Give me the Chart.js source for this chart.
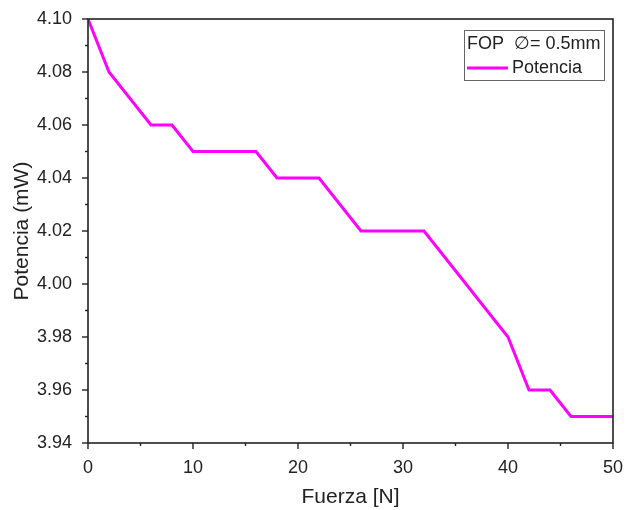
<!DOCTYPE html>
<html><head><meta charset="utf-8">
<script src="https://cdn.jsdelivr.net/npm/chart.js@4/dist/chart.umd.min.js"></script>
<style>html,body{margin:0;padding:0;background:#fff}#wrap{width:626px;height:510px}</style>
</head><body><div id="wrap"><canvas id="c" width="626" height="510"></canvas></div>
<script>
const fuerza = [0, 2, 6, 8, 10, 16, 18, 22, 26, 32, 40, 42, 44, 46, 50];
const potencia = [4.10, 4.08, 4.06, 4.06, 4.05, 4.05, 4.04, 4.04, 4.02, 4.02, 3.98, 3.96, 3.96, 3.95, 3.95];
const xTicks = [0, 10, 20, 30, 40, 50];
const yTicks = [3.94, 3.96, 3.98, 4.00, 4.02, 4.04, 4.06, 4.08, 4.10];
const seriesName = 'Potencia';
const legendTitle = 'FOP  \u2205= 0.5mm';
const xTitle = 'Fuerza [N]';
const yTitle = 'Potencia (mW)';

const FONT = 'Arial, "Liberation Sans", sans-serif';

const framePlugin = {
  id: 'frame',
  afterDraw(chart) {
    const {ctx, chartArea: a, scales} = chart;
    ctx.save();
    ctx.strokeStyle = '#222';
    ctx.lineWidth = 1.6;
    ctx.strokeRect(a.left, a.top, a.right - a.left, a.bottom - a.top);
    ctx.lineWidth = 1.4;
    const xs = scales.x, ys = scales.y;
    for (let v = 0; v <= 50; v += 5) {
      const px = xs.getPixelForValue(v);
      const len = (v % 10 === 0) ? 6 : 3;
      ctx.beginPath(); ctx.moveTo(px, a.bottom); ctx.lineTo(px, a.bottom + len); ctx.stroke();
    }
    for (let i = 0; i <= 16; i++) {
      const v = 3.94 + i * 0.01;
      const py = ys.getPixelForValue(v);
      const len = (i % 2 === 0) ? 6 : 3;
      ctx.beginPath(); ctx.moveTo(a.left, py); ctx.lineTo(a.left - len, py); ctx.stroke();
    }
    // legend box
    const lx = 464, ly = 30, lw = 140, lh = 50;
    ctx.lineWidth = 1;
    ctx.strokeStyle = '#666';
    ctx.strokeRect(lx + 0.5, ly + 0.5, lw, lh);
    ctx.fillStyle = '#222';
    ctx.font = '18px ' + FONT;
    ctx.textBaseline = 'middle';
    ctx.textAlign = 'left';
    ctx.fillText(legendTitle, lx + 3, ly + 14);
    ctx.strokeStyle = '#ff00ff';
    ctx.lineWidth = 3;
    ctx.beginPath(); ctx.moveTo(lx + 3, ly + 38); ctx.lineTo(lx + 44, ly + 38); ctx.stroke();
    ctx.fillText(seriesName, lx + 48, ly + 38);
    ctx.restore();
  }
};

new Chart(document.getElementById('c'), {
  type: 'line',
  data: {
    datasets: [{
      label: seriesName,
      data: fuerza.map((x, i) => ({x, y: potencia[i]})),
      borderColor: '#ff00ff',
      borderWidth: 3,
      pointRadius: 0,
      tension: 0,
      fill: false
    }]
  },
  options: {
    responsive: false,
    animation: false,
    events: [],
    layout: {padding: {top: 19, right: 13, left: 10, bottom: 0}},
    plugins: {legend: {display: false}, tooltip: {enabled: false}},
    scales: {
      x: {
        type: 'linear', min: 0, max: 50,
        afterBuildTicks(s) { s.ticks = xTicks.map(v => ({value: v})); },
        grid: {display: false},
        border: {display: false},
        ticks: {color: '#222', font: {size: 18, family: FONT}, padding: 6, maxRotation: 0},
        title: {display: true, text: xTitle, color: '#222', font: {size: 21, family: FONT}, padding: {top: 0, bottom: 0}},
        afterFit(s) { s.height = 67; s.paddingRight = 0; s.paddingLeft = 0; }
      },
      y: {
        type: 'linear', min: 3.94, max: 4.10,
        afterBuildTicks(s) { s.ticks = yTicks.map(v => ({value: v})); },
        grid: {display: false},
        border: {display: false},
        ticks: {color: '#222', font: {size: 18, family: FONT}, padding: 8, callback: v => Number(v).toFixed(2)},
        title: {display: true, text: yTitle, color: '#222', font: {size: 21, family: FONT}, padding: {top: 0, bottom: 0}},
        afterFit(s) { s.width = 78; s.paddingTop = 0; s.paddingBottom = 0; }
      }
    }
  },
  plugins: [framePlugin]
});
</script></body></html>
